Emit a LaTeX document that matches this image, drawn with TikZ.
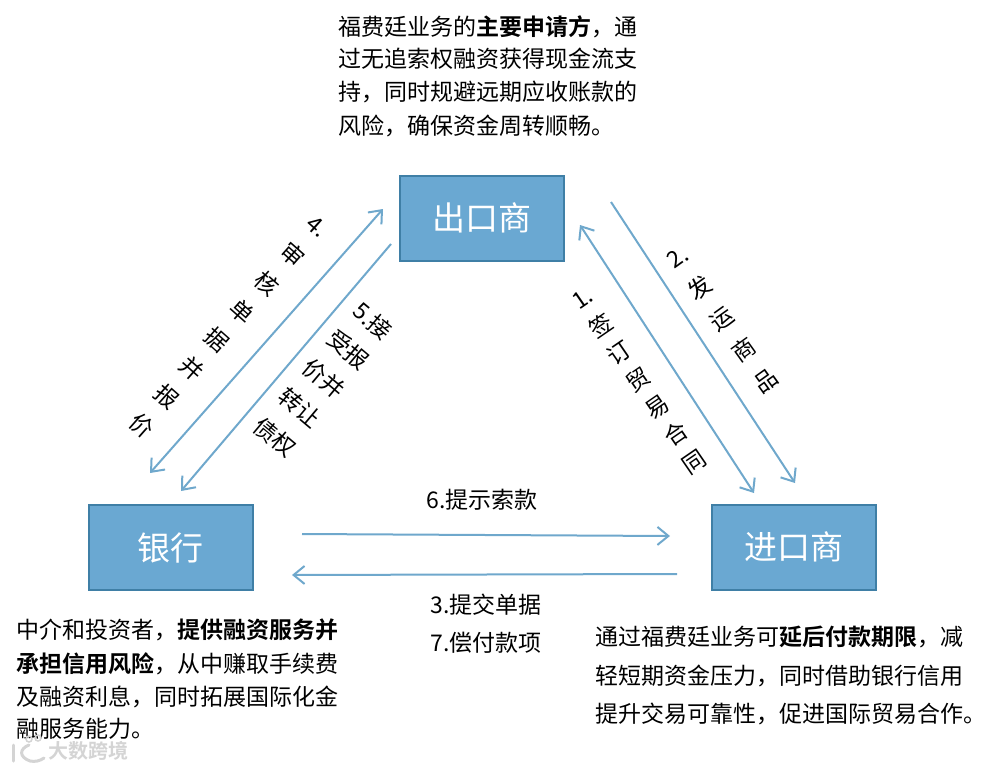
\documentclass[tikz,border=0pt]{standalone}
\usepackage{fontspec}
\setmainfont{Noto Sans CJK SC}[BoldFont={Noto Sans CJK SC Bold}]
\usetikzlibrary{arrows.meta}
\definecolor{boxfill}{HTML}{6AA8D2}
\definecolor{boxedge}{HTML}{3F7FA6}
\definecolor{flow}{HTML}{6FA8CC}
\definecolor{wmgray}{HTML}{D4D4D4}
\newcommand{\fs}[1]{\fontsize{#1}{#1}\selectfont}
\tikzset{
  x=1pt,y=-1pt,
  party/.style={draw=boxedge,line width=2pt,fill=boxfill,text=white,minimum width=164pt,minimum height=85pt,inner sep=0pt,font=\fs{33}},
  flowline/.style={draw=flow,line width=2pt,-{Straight Barb[length=11pt,width=18pt,line width=2pt]}},
  flowboth/.style={flowline,{Straight Barb[length=11pt,width=18pt,line width=2pt]}-{Straight Barb[length=11pt,width=18pt,line width=2pt]}},
  para/.style={anchor=west,inner sep=0pt,font=\fs{23}},
  flat/.style={inner sep=0pt,font=\fs{23}},
  slant/.style={inner sep=0pt,align=center,font=\fontsize{23}{#1}\selectfont},
}
\begin{document}
\begin{tikzpicture}
\useasboundingbox (0,0) rectangle (985,768);
% boxes
\node[party] (exp) at (482,218) {出口商};
\node[party] (bank) at (170.5,547.5) {银行};
\node[party] (imp) at (793.5,547) {进口商};
% connector ends
\coordinate (a1) at (383,209); \coordinate (a2) at (150,473);
\coordinate (b1) at (391,244); \coordinate (b2) at (181,491);
\coordinate (c1) at (580,225); \coordinate (c2) at (754,493);
\coordinate (d1) at (611,202); \coordinate (d2) at (795,483);
\coordinate (e1) at (302,534); \coordinate (e2) at (670,536);
\coordinate (f1) at (677,574); \coordinate (f2) at (292,575);
\draw[flowboth] (a2) -- (a1);
\draw[flowline] (b1) -- (b2);
\draw[flowboth] (c1) -- (c2);
\draw[flowline] (d1) -- (d2);
\draw[flowline] (e1) -- (e2);
\draw[flowline] (f1) -- (f2);
% slanted labels
\node[slant=38,rotate=-41.5] (l4) at (228.5,327) {4.\\审\\核\\单\\据\\并\\报\\价};
\node[slant=38,rotate=-40] (l5) at (324,379) {5.接\\受报\\价并\\转让\\债权};
\node[slant=33,rotate=34.5] (l1) at (639,381) {1.\\签\\订\\贸\\易\\合\\同};
\node[slant=38,rotate=35.7] (l2) at (722.5,320) {2.\\发\\运\\商\\品};
% horizontal labels
\node[flat] (l6) at (482,500) {6.提示索款};
\node[flat] (l3) at (486,605) {3.提交单据};
\node[flat] (l7) at (486,643) {7.偿付款项};
% exporter text
\node[para] (t1) at (338,27) {福费廷业务的\textbf{主要申请方}，通};
\node[para] (t2) at (338,59) {过无追索权融资获得现金流支};
\node[para] (t3) at (338,92) {持，同时规避远期应收账款的};
\node[para] (t4) at (338,126) {风险，确保资金周转顺畅。};
% bank text
\node[para] (m1) at (16,630) {中介和投资者，\textbf{提供融资服务并}};
\node[para] (m2) at (16,664) {\textbf{承担信用风险}，从中赚取手续费};
\node[para] (m3) at (16,697) {及融资利息，同时拓展国际化金};
\node[para] (m4) at (16,729) {融服务能力。};
% importer text
\node[para] (r1) at (595,637) {通过福费廷业务可\textbf{延后付款期限}，减};
\node[para] (r2) at (595,676) {轻短期资金压力，同时借助银行信用};
\node[para] (r3) at (595,714) {提升交易可靠性，促进国际贸易合作。};
% watermark
\node[inner sep=0pt,text=wmgray,font=\bfseries\fs{20}] (wm) at (88,751) {大数跨境};
\draw[wmgray,line width=3pt,line cap=round] (13,745) -- (13,761);
\draw[wmgray,line width=3pt,line cap=round] (29,745) .. controls (19,749) and (19,757) .. (30,761) .. controls (35,762) and (40,761) .. (44,758);
\draw[wmgray,line width=1.5pt] (29,739) circle (3pt) (38,738) circle (3pt);
\end{tikzpicture}
\end{document}
